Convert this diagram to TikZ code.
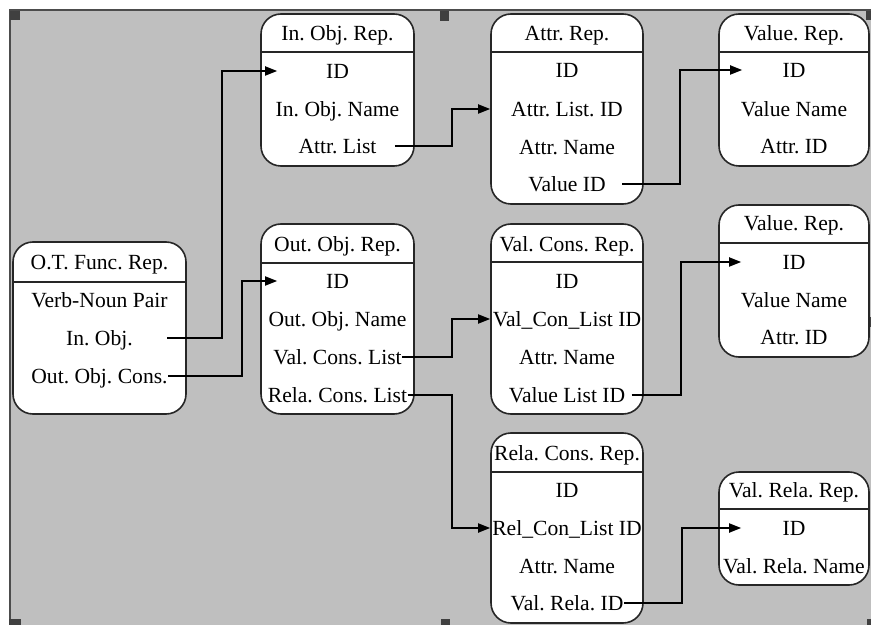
\documentclass[tikz,border=0pt]{standalone}
\usepackage{fontspec}
\setmainfont{Liberation Serif}
\usetikzlibrary{arrows.meta,calc,fit}
\frenchspacing

\begin{document}
\begin{tikzpicture}[x=0.5pt,y=-0.5pt,
	repbox/.style={draw=black!85,line width=0.8pt,fill=white,rounded corners=10pt,inner sep=0pt},
	divline/.style={draw=black!85,line width=0.9pt},
	row/.style={inner sep=0pt,text height=7.2pt,text depth=0pt,font=\fontsize{10.8}{13}\selectfont},
	link/.style={line width=0.9pt,-{Triangle[length=6pt,width=4.5pt]}},
	handle/.style={fill=black!75}]
			\useasboundingbox (0,0) rectangle (871,625);
			\fill[black!25] (9,10) rectangle (871,625);
			\draw[black!70,line width=1pt] (10,625) -- (10,10.5) -- (871,10.5);
			\foreach \hx/\hy/\hw/\hh in {10/11/10/9, 440/11/9/10, 866/11/5/9, 15/317/6/10, 867/317/4/10, 9/619/12/6, 441/619/9/6, 867/619/4/6}
				\fill[handle] (\hx,\hy) rectangle ++(\hw,\hh);
			% O.T. function
			\node[repbox,fit={(13,242) (186,414)}] (ot) {};
			\draw[divline] (ot.west |- 0,282) -- (ot.east |- 0,282);
			\node[row] (ot-t) at (ot |- 0,262) {O.T. Func. Rep.};
			\foreach \txt/\yy [count=\i] in {Verb-Noun Pair/300, In. Obj./338, Out. Obj. Cons./376}
				\node[row] (ot-\i) at (ot |- 0,\yy) {\txt};
			% input / output objects
			\node[repbox,fit={(261,14) (414,166)}] (inobj) {};
			\draw[divline] (inobj.west |- 0,52) -- (inobj.east |- 0,52);
			\node[row] (inobj-t) at (inobj |- 0,33) {In. Obj. Rep.};
			\foreach \txt/\yy [count=\i] in {ID/71, In. Obj. Name/109, Attr. List/146}
				\node[row] (inobj-\i) at (inobj |- 0,\yy) {\txt};
			\node[repbox,fit={(261,224) (414,414)}] (outobj) {};
			\draw[divline] (outobj.west |- 0,263) -- (outobj.east |- 0,263);
			\node[row] (outobj-t) at (outobj |- 0,244) {Out. Obj. Rep.};
			\foreach \txt/\yy [count=\i] in {ID/281, Out. Obj. Name/319, Val. Cons. List/357, Rela. Cons. List/395}
				\node[row] (outobj-\i) at (outobj |- 0,\yy) {\txt};
			% attributes and constraints
			\node[repbox,fit={(491,14) (643,204)}] (attr) {};
			\draw[divline] (attr.west |- 0,52) -- (attr.east |- 0,52);
			\node[row] (attr-t) at (attr |- 0,33) {Attr. Rep.};
			\foreach \txt/\yy [count=\i] in {ID/70, Attr. List. ID/109, Attr. Name/147, Value ID/184}
				\node[row] (attr-\i) at (attr |- 0,\yy) {\txt};
			\node[repbox,fit={(491,224) (643,414)}] (valcons) {};
			\draw[divline] (valcons.west |- 0,262) -- (valcons.east |- 0,262);
			\node[row] (valcons-t) at (valcons |- 0,244) {Val. Cons. Rep.};
			\foreach \txt/\yy [count=\i] in {ID/281, Val\_Con\_List ID/319, Attr. Name/357, Value List ID/395}
				\node[row] (valcons-\i) at (valcons |- 0,\yy) {\txt};
			\node[repbox,fit={(491,433) (643,623)}] (relcons) {};
			\draw[divline] (relcons.west |- 0,472) -- (relcons.east |- 0,472);
			\node[row] (relcons-t) at (relcons |- 0,453) {Rela. Cons. Rep.};
			\foreach \txt/\yy [count=\i] in {ID/490, Rel\_Con\_List ID/528, Attr. Name/566, Val. Rela. ID/603}
				\node[row] (relcons-\i) at (relcons |- 0,\yy) {\txt};
			% values
			\node[repbox,fit={(719,14) (869,166)}] (value1) {};
			\draw[divline] (value1.west |- 0,52) -- (value1.east |- 0,52);
			\node[row] (value1-t) at (value1 |- 0,33) {Value. Rep.};
			\foreach \txt/\yy [count=\i] in {ID/70, Value Name/109, Attr. ID/146}
				\node[row] (value1-\i) at (value1 |- 0,\yy) {\txt};
			\node[repbox,fit={(719,205) (869,357)}] (value2) {};
			\draw[divline] (value2.west |- 0,243) -- (value2.east |- 0,243);
			\node[row] (value2-t) at (value2 |- 0,223) {Value. Rep.};
			\foreach \txt/\yy [count=\i] in {ID/262, Value Name/300, Attr. ID/337}
				\node[row] (value2-\i) at (value2 |- 0,\yy) {\txt};
			\node[repbox,fit={(719,472) (869,585)}] (valrela) {};
			\draw[divline] (valrela.west |- 0,509) -- (valrela.east |- 0,509);
			\node[row] (valrela-t) at (valrela |- 0,490) {Val. Rela. Rep.};
			\foreach \txt/\yy [count=\i] in {ID/528, Val. Rela. Name/566}
				\node[row] (valrela-\i) at (valrela |- 0,\yy) {\txt};
			% links
			\draw[link] ([xshift=17pt]ot-2.east) -- (ot-2.east -| 222,0) |- ($(inobj.west |- inobj-1)+(17,0)$);
			\draw[link] (ot-3.east) -- (ot-3.east -| 242,0) |- ($(outobj.west |- outobj-1)+(17,0)$);
			\draw[link] ([xshift=9pt]inobj-3.east) -- (inobj-3.east -| 452,0) |- (attr.west |- attr-2);
			\draw[link] ([xshift=8pt]attr-4.east) -- (attr-4.east -| 680,0) |- ($(value1.west |- value1-1)+(24,0)$);
			\draw[link] (outobj-3.east) -- (outobj-3.east -| 452,0) |- (valcons.west |- valcons-2);
			\draw[link] (outobj-4.east) -- (outobj-4.east -| 452,0) |- (relcons.west |- relcons-2);
			\draw[link] ([xshift=3pt]valcons-4.east) -- (valcons-4.east -| 681,0) |- ($(value2.west |- value2-1)+(23,0)$);
			\draw[link] (relcons-4.east) -- (relcons-4.east -| 682,0) |- ($(valrela.west |- valrela-1)+(23,0)$);
			\end{tikzpicture}
\end{document}
